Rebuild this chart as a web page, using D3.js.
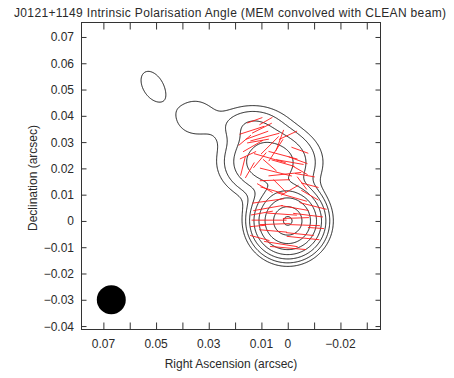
<!DOCTYPE html>
<html><head><meta charset="utf-8">
<script src="https://cdn.jsdelivr.net/npm/d3@7"></script>
<style>
body{margin:0;background:#fff}
text{font-family:"Liberation Sans",Arial,sans-serif;fill:#2a2a2a}
</style>
</head><body>
<svg id="chart" width="454" height="378"></svg>
<script>
// ---------- text ----------
const titleText = "J0121+1149 Intrinsic Polarisation Angle (MEM convolved with CLEAN beam)";
const xLabelText = "Right Ascension (arcsec)";
const yLabelText = "Declination (arcsec)";

// ---------- axes (arcsec) ----------
const xDomain = [0.0785, -0.0354];
const yDomain = [0.0757, -0.0415];
const xTicks = [0.07, 0.06, 0.05, 0.04, 0.03, 0.02, 0.01, 0, -0.01, -0.02, -0.03];
const xTickLabels = [0.07, 0.05, 0.03, 0.01, 0, -0.02];
const yTicks = [0.07, 0.06, 0.05, 0.04, 0.03, 0.02, 0.01, 0, -0.01, -0.02, -0.03, -0.04];

// ---------- total intensity model components (arcsec) ----------
const compX    = [0.0,    0.0068, 0.0136, 0.0353, 0.0512];
const compY    = [0.0,    0.0224, 0.0364, 0.0395, 0.0513];
const compAmp  = [1.0,    0.13,   0.035,  0.018,  0.0165];
const compSMaj = [0.0057, 0.0089, 0.0076, 0.0061, 0.0061];
const compSMin = [0.0057, 0.0068, 0.0046, 0.0055, 0.0038];
const compPA   = [0,      90,     90,     90,     30];
const contourLevels = [0.01, 0.02, 0.04, 0.08, 0.16, 0.32, 0.64, 0.96];

// ---------- polarisation vectors (arcsec, EVPA deg) ----------
const vecX = [0.0098,0.0117,0.0132,0.0113,0.0045,0.0018,-0.0008,0.0011,0.0045,0.0170,0.0068,0.0136,0.0087,0.0068,0.0018,0.0068,0.0049,-0.0039,0.0151,0.0106,0.0083,0.0030,0.0144,
  -0.0054,-0.0016,0.0075,0.0075,0.0071,0.0049,0.0056,-0.0046,0.0026,-0.0001,-0.0058,-0.0077,-0.0096,-0.0065,-0.0027,0.0098,-0.0084,0.0106,0.0022,0.0087,0.0030,0.0060,-0.0031,-0.0107,0.0113,-0.0008,-0.0046,
  -0.0001,-0.0046,-0.0065,0.0125,0.0163,-0.0084];
const vecY = [0.0353,0.0326,0.0285,0.0304,0.0269,0.0250,0.0224,0.0178,0.0186,0.0209,0.0212,0.0345,0.0319,0.0288,0.0220,0.0239,0.0155,0.0231,0.0250,0.0231,0.0380,0.0307,0.0193,
  0.0144,0.0091,0.0076,0.0049,0.0003,-0.0012,-0.0038,-0.0050,-0.0088,-0.0103,-0.0065,0.0022,0.0057,-0.0016,0.0049,0.0030,0.0098,-0.0065,0.0026,0.0125,0.0133,0.0117,0.0011,-0.0027,-0.0019,0.0117,0.0193,
  0.0326,0.0269,0.0174,0.0383,0.0307,0.0136];
const vecPA = [117,110,120,100,147,75,80,96,76,166,49,108,105,135,74,74,92,70,115,140,120,160,150,
  37,74,98,100,90,92,85,84,81,85,84,83,76,88,80,100,60,75,86,60,45,74,92,86,95,120,60,
  115,70,80,110,130,75];
const vecLen = [0.0084,0.0091,0.0087,0.0084,0.0099,0.0114,0.0106,0.0125,0.0125,0.0076,0.0068,0.0099,0.0114,0.0095,0.0091,0.0125,0.0114,0.0076,0.0068,0.0076,0.0057,0.0084,0.0068,
  0.0061,0.0118,0.0122,0.0114,0.0133,0.0114,0.0106,0.0106,0.0129,0.0137,0.0125,0.0114,0.0106,0.0114,0.0106,0.0084,0.0076,0.0076,0.0114,0.0068,0.0068,0.0091,0.0099,0.0061,0.0061,0.0076,0.0068,
  0.0076,0.0068,0.0076,0.0061,0.0061,0.0068];

// ---------- restoring beam ----------
const beamX = [0.0670], beamY = [-0.0300], beamFWHM = [0.0110];

// ---------- layout ----------
const L = 81, R = 381, T = 22, B = 330;
const svg = d3.select("#chart");
const x = d3.scaleLinear().domain(xDomain).range([L, R]);
const y = d3.scaleLinear().domain(yDomain).range([T, B]);

svg.append("defs").append("clipPath").attr("id", "clip")
  .append("rect").attr("x", L).attr("y", T).attr("width", R - L).attr("height", B - T);

// ---------- contour grid from model ----------
const step = 0.0003;
const nx = Math.ceil((xDomain[0] - xDomain[1]) / step) + 1;
const ny = Math.ceil((yDomain[0] - yDomain[1]) / step) + 1;
const values = new Float64Array(nx * ny);
const rad = Math.PI / 180;
for (let j = 0; j < ny; j++) {
  const dy0 = yDomain[0] - j * step;
  for (let i = 0; i < nx; i++) {
    const dx0 = xDomain[0] - i * step;
    let v = 0;
    for (let k = 0; k < compX.length; k++) {
      const dx = dx0 - compX[k], dy = dy0 - compY[k];
      const s = Math.sin(compPA[k] * rad), c = Math.cos(compPA[k] * rad);
      const u = dx * s + dy * c, w = dx * c - dy * s;
      v += compAmp[k] * Math.exp(-(u * u) / (2 * compSMaj[k] ** 2) - (w * w) / (2 * compSMin[k] ** 2));
    }
    values[j * nx + i] = v;
  }
}
const contours = d3.contours().size([nx, ny]).thresholds(contourLevels)(values);
const proj = d3.geoTransform({
  point: function (gx, gy) {
    this.stream.point(x(xDomain[0] - (gx - 0.5) * step), y(yDomain[0] - (gy - 0.5) * step));
  }
});
const path = d3.geoPath(proj);
const plot = svg.append("g").attr("clip-path", "url(#clip)");
plot.append("g").selectAll("path").data(contours).join("path")
  .attr("d", path).attr("fill", "none").attr("stroke", "#1a1a1a").attr("stroke-width", 1);

// ---------- polarisation vectors ----------
const vecs = vecX.map((vx, i) => ({ x: vx, y: vecY[i], pa: vecPA[i], len: vecLen[i] }));
plot.append("g").selectAll("line").data(vecs).join("line")
  .attr("x1", d => x(d.x + Math.sin(d.pa * rad) * d.len / 2))
  .attr("y1", d => y(d.y + Math.cos(d.pa * rad) * d.len / 2))
  .attr("x2", d => x(d.x - Math.sin(d.pa * rad) * d.len / 2))
  .attr("y2", d => y(d.y - Math.cos(d.pa * rad) * d.len / 2))
  .attr("stroke", "#ff1a1a").attr("stroke-width", 0.9);

// ---------- beam ----------
plot.append("g").selectAll("ellipse").data(beamX.map((bx, i) => ({ x: bx, y: beamY[i], f: beamFWHM[i] })))
  .join("ellipse")
  .attr("cx", d => x(d.x)).attr("cy", d => y(d.y))
  .attr("rx", d => Math.abs(x(d.f / 2) - x(0))).attr("ry", d => Math.abs(y(d.f / 2) - y(0)))
  .attr("fill", "#000");

// ---------- frame and ticks ----------
const ax = svg.append("g").attr("stroke", "#333").attr("stroke-width", 1).attr("shape-rendering", "crispEdges");
ax.append("rect").attr("x", L + 0.5).attr("y", T + 0.5).attr("width", R - L - 1).attr("height", B - T - 1).attr("fill", "none");
const fmt = v => v === 0 ? "0" : (v < 0 ? "\u2212" + d3.format(".2f")(-v) : d3.format(".2f")(v));
svg.append("g").attr("transform", `translate(0,${B - 0.5})`)
  .call(d3.axisBottom(x).tickValues(xTicks).tickSize(-7).tickFormat(""))
  .call(g => { g.select(".domain").remove(); g.selectAll("line").attr("stroke", "#333"); });
svg.append("g").attr("transform", `translate(0,${T + 0.5})`)
  .call(d3.axisTop(x).tickValues(xTicks).tickSize(-7).tickFormat(""))
  .call(g => { g.select(".domain").remove(); g.selectAll("line").attr("stroke", "#333"); });
svg.append("g").attr("transform", `translate(${L + 0.5},0)`)
  .call(d3.axisLeft(y).tickValues(yTicks).tickSize(-5).tickFormat(""))
  .call(g => { g.select(".domain").remove(); g.selectAll("line").attr("stroke", "#333"); });
svg.append("g").attr("transform", `translate(${R - 0.5},0)`)
  .call(d3.axisRight(y).tickValues(yTicks).tickSize(-5).tickFormat(""))
  .call(g => { g.select(".domain").remove(); g.selectAll("line").attr("stroke", "#333"); });

svg.append("g").selectAll("text").data(xTickLabels).join("text")
  .attr("x", d => x(d)).attr("y", 348).attr("text-anchor", "middle")
  .attr("font-size", 12).text(fmt);
svg.append("g").selectAll("text").data(yTicks).join("text")
  .attr("x", 74).attr("y", d => y(d) + 4.5).attr("text-anchor", "end")
  .attr("font-size", 12).text(fmt);

svg.append("text").attr("x", 14).attr("y", 17)
  .attr("font-size", 12).attr("textLength", 432).attr("lengthAdjust", "spacing").text(titleText);
svg.append("text").attr("x", (L + R) / 2).attr("y", 368).attr("text-anchor", "middle")
  .attr("font-size", 12).text(xLabelText);
svg.append("text").attr("transform", `translate(37,${(T + B) / 2 + 2}) rotate(-90)`)
  .attr("text-anchor", "middle").attr("font-size", 12).text(yLabelText);
</script>
</body></html>
